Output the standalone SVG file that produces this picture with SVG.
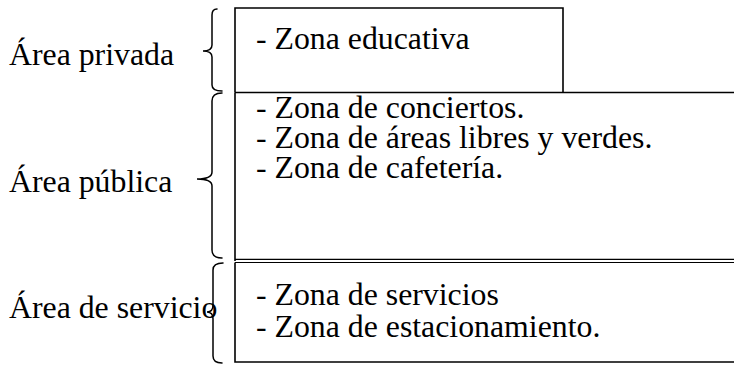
<svg xmlns="http://www.w3.org/2000/svg" width="734" height="367" viewBox="0 0 734 367">
<style>
text{font-family:"Liberation Serif","Times New Roman",serif;font-size:31.8px;fill:#000}
.b{fill:none;stroke:#000;stroke-width:1.6}
.br{fill:none;stroke:#000;stroke-width:1.5;stroke-linecap:round}
</style>
<rect width="734" height="367" fill="#fff"/>
<g id="area-privada">
<text x="9" y="65">Área privada</text>
<path class="b" d="M235 92.5 V8 H563 V92.5"/>
<text x="256" y="49">- Zona educativa</text>
</g>
<g id="area-publica">
<text x="9" y="192">Área pública</text>
<path class="b" d="M235 92.5 H734 M235 92.5 V261"/>
<path class="b" d="M235 259.3 H734 M235 262.5 H734" style="stroke-width:1.2"/>
<text x="256" y="118">- Zona de conciertos.</text>
<text x="256" y="148">- Zona de áreas libres y verdes.</text>
<text x="256" y="178">- Zona de cafetería.</text>
</g>
<g id="area-servicio">
<text x="9" y="318">Área de servicio</text>
<path class="b" d="M235 262.5 V362 H734"/>
<text x="256" y="305">- Zona de servicios</text>
<text x="256" y="337">- Zona de estacionamiento.</text>
</g>
<g id="connectors">
<path class="br" d="M217 9 Q212 9 212 15 L212 45 Q212 51 203 51 Q212 51 212 57 L212 85 Q212 91 222 91"/>
<path class="br" d="M222 93 Q212 93 212 101 L212 172 Q212 179 197 179 Q212 179 212 186 L212 250 Q212 258 222 258"/>
<path class="br" d="M223 263 Q213 263 213 270 L213 305 Q213 312 207 312 Q213 312 213 319 L213 356 Q213 363 222 363"/>
</g>
</svg>
